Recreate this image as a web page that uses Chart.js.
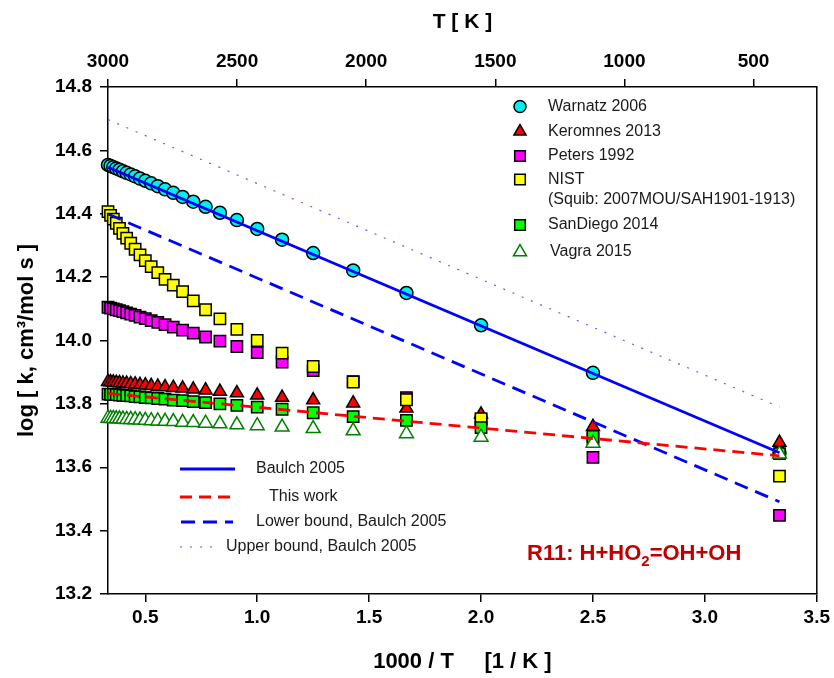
<!DOCTYPE html>
<html lang="en">
<head>
  <meta charset="UTF-8">
  <title>R11: H+HO2=OH+OH rate constants</title>
  <script src="https://cdn.jsdelivr.net/npm/chart.js"></script>
  <style>
    body {
      margin: 0;
      background: #fff;
    }
    #wrap {
      width: 834px;
      height: 678px;
    }
  </style>
</head>
<body>
  <div id="wrap"><canvas id="rateChart" width="834" height="678"></canvas></div>

  <script>
    // 1000/T for T = 3000 ... 300 K (step 100)
    const invT = [0.3333, 0.3448, 0.3571, 0.3704, 0.3846, 0.4000, 0.4167, 0.4348, 0.4545, 0.4762,
                  0.5000, 0.5263, 0.5556, 0.5882, 0.6250, 0.6667, 0.7143, 0.7692, 0.8333, 0.9091,
                  1.0000, 1.1111, 1.2500, 1.4286, 1.6667, 2.0000, 2.5000, 3.3333];

    const warnatz = [14.554, 14.551, 14.547, 14.543, 14.539, 14.534, 14.529, 14.524, 14.518, 14.511,
                     14.504, 14.496, 14.487, 14.477, 14.466, 14.453, 14.438, 14.422, 14.403, 14.380,
                     14.352, 14.318, 14.276, 14.221, 14.150, 14.048, 13.898, 13.645];
    const keromnes = [13.870, 13.869, 13.868, 13.867, 13.866, 13.865, 13.864, 13.863, 13.862, 13.860,
                      13.859, 13.857, 13.855, 13.853, 13.851, 13.849, 13.846, 13.843, 13.839, 13.834,
                      13.827, 13.820, 13.812, 13.802, 13.786, 13.767, 13.728, 13.678];
    const peters = [14.105, 14.102, 14.100, 14.097, 14.094, 14.091, 14.087, 14.083, 14.079, 14.074,
                    14.069, 14.063, 14.057, 14.050, 14.042, 14.033, 14.023, 14.011, 13.998, 13.981,
                    13.962, 13.932, 13.905, 13.870, 13.820, 13.750, 13.631, 13.448];
    const nist = [14.407, 14.395, 14.383, 14.370, 14.354, 14.338, 14.323, 14.307, 14.288, 14.270,
                  14.252, 14.233, 14.214, 14.193, 14.175, 14.154, 14.125, 14.097, 14.068, 14.035,
                  14.000, 13.960, 13.918, 13.869, 13.813, 13.753, 13.690, 13.572];
    const sanDiego = [13.831, 13.830, 13.830, 13.829, 13.828, 13.827, 13.826, 13.825, 13.823, 13.822,
                      13.820, 13.819, 13.817, 13.815, 13.812, 13.810, 13.807, 13.804, 13.800, 13.795,
                      13.790, 13.783, 13.772, 13.760, 13.748, 13.725, 13.697, 13.643];
    const vagra = [13.755, 13.754, 13.754, 13.753, 13.753, 13.752, 13.751, 13.751, 13.750, 13.749,
                   13.748, 13.747, 13.746, 13.745, 13.744, 13.742, 13.741, 13.739, 13.737, 13.734,
                   13.731, 13.727, 13.722, 13.715, 13.706, 13.695, 13.676, 13.642];

    // straight Arrhenius lines, end points only
    const lineX = [0.3333, 3.3333];
    const baulch = [14.547, 13.646];
    const thisWork = [13.833, 13.636];
    const lowerBound = [14.399, 13.491];
    const upperBound = [14.697, 13.790];

    const xTicks = [0.5, 1.0, 1.5, 2.0, 2.5, 3.0, 3.5];
    const tTicks = [3000, 2500, 2000, 1500, 1000, 500];

    const pts = (xs, ys) => xs.map((x, i) => ({ x: x, y: ys[i] }));

    const FAM = 'Arial, "Liberation Sans", sans-serif';
    const tickFont = { family: FAM, size: 19, weight: 'bold' };
    const titleFont = { family: FAM, size: 22, weight: 'bold' };

    const markerSet = (label, ys, style, radius, fill, stroke, order) => ({
      label: label,
      data: pts(invT, ys),
      pointStyle: style,
      pointRadius: radius,
      pointBackgroundColor: fill,
      pointBorderColor: stroke,
      pointBorderWidth: 1.5,
      showLine: false,
      clip: false,
      order: order
    });

    const lineSet = (label, ys, color, width, dash, order) => ({
      label: label,
      data: pts(lineX, ys),
      showLine: true,
      pointRadius: 0,
      borderColor: color,
      borderWidth: width,
      borderDash: dash,
      fill: false,
      clip: false,
      order: order
    });

    // legends, right frame and reaction label
    const extras = {
      id: 'extras',
      afterDraw(chart) {
        const ctx = chart.ctx;
        const a = chart.chartArea;
        ctx.save();
        ctx.strokeStyle = '#000';
        ctx.lineWidth = 1.5;
        ctx.beginPath();
        ctx.moveTo(a.right, a.top);
        ctx.lineTo(a.right, a.bottom);
        ctx.stroke();

        ctx.font = '16px ' + FAM;
        ctx.textBaseline = 'middle';
        ctx.textAlign = 'left';

        const marks = [
          ['circle', 6, '#00EEEE', '#000', 106.5, 'Warnatz 2006', 548],
          ['triangle', 7, '#FF0000', '#000', 131.5, 'Keromnes 2013', 548],
          ['rect', 7.5, '#FF00FF', '#000', 156, 'Peters 1992', 548],
          ['rect', 7.5, '#FFFF00', '#000', 179.5, 'NIST', 548],
          ['rect', 7.5, '#00FF00', '#000', 225, 'SanDiego 2014', 548],
          ['triangle', 7.5, '#FFFFFF', '#008000', 252, 'Vagra 2015', 550]
        ];
        marks.forEach(m => {
          ctx.fillStyle = m[2];
          ctx.strokeStyle = m[3];
          ctx.lineWidth = 1.5;
          Chart.helpers.drawPoint(ctx, { pointStyle: m[0], radius: m[1], rotation: 0, borderWidth: 1.5 }, 520, m[4]);
          ctx.fillStyle = '#1a1a1a';
          ctx.fillText(m[5], m[6], m[4]);
        });
        ctx.fillText('(Squib: 2007MOU/SAH1901-1913)', 548, 200);

        const lines = [
          [469, '#0000FF', 2.8, [], 180, 235, 'Baulch 2005', 256],
          [497, '#FF0000', 2.8, [12, 7], 180, 235, 'This work', 269],
          [522, '#0000FF', 2.8, [14, 8], 181, 233, 'Lower bound, Baulch 2005', 256],
          [547, '#5a5aff', 1.2, [2, 8], 180, 213, 'Upper bound, Baulch 2005', 226]
        ];
        lines.forEach(l => {
          ctx.strokeStyle = l[1];
          ctx.lineWidth = l[2];
          ctx.setLineDash(l[3]);
          ctx.beginPath();
          ctx.moveTo(l[4], l[0]);
          ctx.lineTo(l[5], l[0]);
          ctx.stroke();
          ctx.setLineDash([]);
          ctx.fillStyle = '#1a1a1a';
          ctx.fillText(l[6], l[7], l[0]);
        });

        // R11: H+HO2=OH+OH
        ctx.fillStyle = '#C00000';
        ctx.textBaseline = 'alphabetic';
        const big = 'bold 22px ' + FAM;
        const small = 'bold 15px ' + FAM;
        let x = 527;
        const base = 560;
        ctx.font = big;
        ctx.fillText('R11: H+HO', x, base);
        x += ctx.measureText('R11: H+HO').width;
        ctx.font = small;
        ctx.fillText('2', x, base + 6);
        x += ctx.measureText('2').width;
        ctx.font = big;
        ctx.fillText('=OH+OH', x, base);
        ctx.restore();
      }
    };

    const ctx = document.getElementById('rateChart').getContext('2d');

    const chart = new Chart(ctx, {
      type: 'scatter',
      data: {
        datasets: [
          lineSet('Baulch 2005', baulch, '#0000FF', 2.8, [], 0),
          lineSet('This work', thisWork, '#FF0000', 2.8, [12, 7], 1),
          lineSet('Lower bound, Baulch 2005', lowerBound, '#0000FF', 2.8, [14, 8], 2),
          lineSet('Upper bound, Baulch 2005', upperBound, '#5a5aff', 1.2, [2, 8], 3),
          markerSet('Vagra 2015', vagra, 'triangle', 8, '#FFFFFF', '#008000', 4),
          markerSet('SanDiego 2014', sanDiego, 'rect', 8, '#00FF00', '#000', 5),
          markerSet('NIST', nist, 'rect', 8, '#FFFF00', '#000', 6),
          markerSet('Peters 1992', peters, 'rect', 8, '#FF00FF', '#000', 7),
          markerSet('Keromnes 2013', keromnes, 'triangle', 7.5, '#FF0000', '#000', 8),
          markerSet('Warnatz 2006', warnatz, 'circle', 6.5, '#00EEEE', '#000', 9)
        ]
      },
      options: {
        responsive: false,
        animation: false,
        layout: { padding: { left: 0, right: 16, top: 0, bottom: 0 } },
        plugins: {
          legend: { display: false },
          tooltip: { enabled: false }
        },
        scales: {
          x: {
            type: 'linear',
            position: 'bottom',
            min: 0.3333,
            max: 3.5,
            afterFit: s => { s.height = 84; },
            afterBuildTicks: s => { s.ticks = xTicks.map(v => ({ value: v })); },
            ticks: { font: tickFont, color: '#000', padding: 4, maxRotation: 0, callback: v => v.toFixed(1) },
            grid: { drawOnChartArea: false, tickLength: 8, color: '#000', lineWidth: 1.5 },
            border: { color: '#000', width: 1.5 },
            title: { display: true, text: '1000 / T     [1 / K ]', font: titleFont, color: '#000', padding: { bottom: 3 } }
          },
          x2: {
            type: 'linear',
            position: 'top',
            reverse: true,
            min: 255,
            max: 3000,
            afterFit: s => { s.height = 87; },
            afterBuildTicks: s => { s.ticks = tTicks.map(v => ({ value: v })); },
            ticks: { font: tickFont, color: '#000', padding: 6, maxRotation: 0, callback: v => String(v) },
            grid: { drawOnChartArea: false, tickLength: 8, color: '#000', lineWidth: 1.5 },
            border: { color: '#000', width: 1.5 },
            title: { display: true, text: 'T [ K ]', font: { family: FAM, size: 21, weight: 'bold' }, color: '#000', padding: { top: 10 } }
          },
          y: {
            type: 'linear',
            min: 13.2,
            max: 14.8,
            afterFit: s => { s.width = 108; },
            ticks: { stepSize: 0.2, font: tickFont, color: '#000', padding: 8, callback: v => v.toFixed(1) },
            grid: { drawOnChartArea: false, tickLength: 8, color: '#000', lineWidth: 1.5 },
            border: { color: '#000', width: 1.5 },
            title: { display: true, text: 'log [ k, cm³/mol s ]', font: titleFont, color: '#000', padding: { top: 14 } }
          }
        }
      },
      plugins: [extras]
    });
  </script>
</body>
</html>
